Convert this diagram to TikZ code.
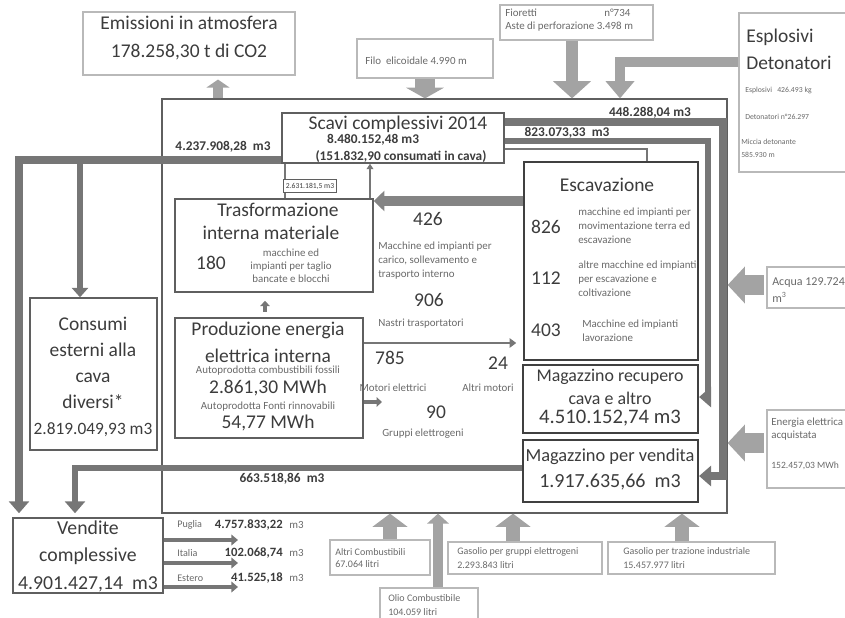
\documentclass[tikz,border=0pt]{standalone}
\usepackage{fontspec}
\setmainfont{Carlito}
\usetikzlibrary{arrows.meta,positioning,fit}

\definecolor{boxline}{RGB}{95,95,95}
\definecolor{paleline}{RGB}{185,185,185}
\definecolor{flowgray}{RGB}{118,118,118}
\definecolor{fatgray}{RGB}{163,163,163}
\definecolor{txtdark}{RGB}{60,60,60}
\definecolor{txtsmall}{RGB}{105,105,105}

\newcommand{\titlesize}{\fontsize{14.6}{17}\selectfont}
\newcommand{\notesize}{\fontsize{8.2}{10}\selectfont}
\newcommand{\flowsize}{\fontsize{10}{12}\selectfont\bfseries}

\tikzset{
  box/.style={draw=boxline,line width=1.1pt},
  heavybox/.style={draw=black!75,line width=1.6pt},
  palebox/.style={draw=paleline,line width=0.8pt},
  titletxt/.style={font=\titlesize,text=txtdark},
  notetxt/.style={font=\notesize,text=txtsmall},
  flowtxt/.style={font=\flowsize,text=txtdark},
  flow/.style={draw=flowgray,line width=#1,-{Triangle[width=15pt,length=9pt]}},
  flow/.default=5pt,
  link/.style={draw=flowgray,line width=1.8pt},
  fatarrow/.style n args={3}{draw=fatgray,line width=#1,-{Triangle[width=#2,length=#3]}}
}

\begin{document}
\begin{tikzpicture}[x=0.75pt,y=-0.75pt]
\tikzstyle{every node}+=[inner sep=0pt]
\useasboundingbox (0,0) rectangle (845,617);

\node[palebox,fit={(83,12) (295,75)}] (emis) {};
\node[palebox,fit={(357,39) (493,78)}] (filo) {};
\node[palebox,fit={(500,5) (653,40)}] (fior) {};
\node[palebox,fit={(739,13) (852,172)}] (espl) {};
\node[box,line width=0.9pt,fit={(162,99) (727,513)}] (quarry) {};
\node[box,fit={(282,113) (504,163)}] (scavi) {};
\node[box,fit={(175,199) (373,292)}] (trasf) {};
\node[box,fit={(175,318) (363,438)}] (prod) {};
\node[heavybox,fit={(524,162) (698,360)}] (escav) {};
\node[heavybox,fit={(523,365) (698,433)}] (magrec) {};
\node[heavybox,fit={(523,440) (698,502)}] (magven) {};
\node[box,fit={(30,298) (157,450)}] (consumi) {};
\node[box,fit={(13,518) (163,593)}] (vendite) {};
\node[palebox,fit={(767,267) (852,308)}] (acqua) {};
\node[palebox,fit={(767,410) (852,488)}] (energia) {};
\node[palebox,fit={(330,540) (430,575)}] (altri) {};
\node[palebox,fit={(380,588) (478,630)}] (olio) {};
\node[palebox,fit={(448,542) (602,574)}] (gasgen) {};
\node[palebox,fit={(608,542) (775,574)}] (gastraz) {};

\node[titletxt,align=center,font=\fontsize{14.6}{21}\selectfont] (emistxt) at (189,38) {Emissioni in atmosfera\\178.258,30 t di CO2};
\node[notetxt,anchor=west] (filotxt) at (365,61) {Filo\ \ elicoidale 4.990 m};
\node[notetxt,anchor=west] (fiortxt) at (505,13) {Fioretti};
\node[notetxt,anchor=west] (fiornum) at (604,13) {n°734};
\node[notetxt,anchor=west] (astetxt) at (505,27) {Aste di perforazione 3.498 m};
\node[titletxt,anchor=west] (espltxt) at (746,37) {Esplosivi};
\node[titletxt,anchor=west] (detotxt) at (746,63) {Detonatori};
\node[notetxt,font=\fontsize{5.8}{7}\selectfont,anchor=west] (esplnum) at (745,90) {Esplosivi\ \ \ 426.493 kg};
\node[notetxt,font=\fontsize{5.8}{7}\selectfont,anchor=west] (detonum) at (745,117) {Detonatori n°26.297};
\node[notetxt,font=\fontsize{5.8}{7}\selectfont,anchor=west] (miccia) at (741,142) {Miccia detonante};
\node[notetxt,font=\fontsize{5.8}{7}\selectfont,anchor=west] (miccianum) at (741,155) {585.930 m};

\node[titletxt] (scavitxt) at (398,124) {Scavi complessivi 2014};
\node[flowtxt] (scavinum) at (373,140) {8.480.152,48 m3};
\node[flowtxt] (scavicons) at (401,157) {(151.832,90 consumati in cava)};

\node[titletxt] (trasf1) at (278,210) {Trasformazione};
\node[titletxt] (trasf2) at (271,233) {interna materiale};
\node[titletxt] (trasfnum) at (211,263) {180};
\node[notetxt,align=center,font=\fontsize{8.2}{9.8}\selectfont] (trasfnote) at (291,266) {macchine ed\\impianti per taglio\\bancate e blocchi};

\node[titletxt] (n426) at (428,219) {426};
\node[notetxt,align=left,anchor=west,font=\fontsize{8.2}{10.5}\selectfont] (n426txt) at (378,261) {Macchine ed impianti per\\carico, sollevamento e\\trasporto interno};
\node[titletxt] (n906) at (429,300) {906};
\node[notetxt] (n906txt) at (421,324) {Nastri trasportatori};
\node[titletxt] (n785) at (390,358) {785};
\node[titletxt] (n24) at (498,363) {24};
\node[notetxt] (n785txt) at (393,388) {Motori elettrici};
\node[notetxt] (n24txt) at (488,388) {Altri motori};
\node[titletxt] (n90) at (436,412) {90};
\node[notetxt] (n90txt) at (423,434) {Gruppi elettrogeni};

\node[titletxt] (prod1) at (268,330) {Produzione energia};
\node[titletxt] (prod2) at (268,356) {elettrica interna};
\node[notetxt] (prod3) at (268,371) {Autoprodotta combustibili fossili};
\node[titletxt] (prod4) at (268,388) {2.861,30 MWh};
\node[notetxt] (prod5) at (268,407) {Autoprodotta Fonti rinnovabili};
\node[titletxt] (prod6) at (268,423) {54,77 MWh};

\node[titletxt] (escavtxt) at (607,185) {Escavazione};
\node[titletxt] (n826) at (546,227) {826};
\node[notetxt,align=left,anchor=west,font=\fontsize{8.2}{10.5}\selectfont] (n826txt) at (578,226) {macchine ed impianti per\\movimentazione terra ed\\escavazione};
\node[titletxt] (n112) at (546,278) {112};
\node[notetxt,align=left,anchor=west,font=\fontsize{8.2}{10.5}\selectfont] (n112txt) at (578,279) {altre macchine ed impianti\\per escavazione e\\coltivazione};
\node[titletxt] (n403) at (546,330) {403};
\node[notetxt,align=left,anchor=west,font=\fontsize{8.2}{10.5}\selectfont] (n403txt) at (582,331) {Macchine ed impianti\\lavorazione};

\node[titletxt,font=\fontsize{13.4}{15}\selectfont] (magrec1) at (610,377) {Magazzino recupero};
\node[titletxt,font=\fontsize{13.4}{15}\selectfont] (magrec2) at (610,398) {cava e altro};
\node[titletxt,font=\fontsize{15.5}{17}\selectfont] (magrec3) at (610,418) {4.510.152,74 m3};
\node[titletxt,font=\fontsize{13.8}{15}\selectfont] (magven1) at (610,457) {Magazzino per vendita};
\node[titletxt,font=\fontsize{15}{17}\selectfont] (magven2) at (610,482) {1.917.635,66\ \ m3};

\node[titletxt,align=center,font=\fontsize{14.6}{19.5}\selectfont] (consumitxt) at (93,377) {Consumi\\esterni alla\\cava\\diversi*\\{\fontsize{13}{19.5}\selectfont 2.819.049,93 m3}};
\node[titletxt,align=center,font=\fontsize{14.8}{20.6}\selectfont] (venditetxt) at (88,556) {Vendite\\complessive\\4.901.427,14\ \ m3};

\node[notetxt,font=\fontsize{7.6}{9}\selectfont,anchor=west] (puglia) at (177,525) {Puglia};
\node[flowtxt,font=\fontsize{9.5}{11}\selectfont\bfseries,anchor=east] (puglianum) at (283,525) {4.757.833,22};
\node[notetxt,anchor=west] (pugliam) at (289,525) {m3};
\node[notetxt,font=\fontsize{7.6}{9}\selectfont,anchor=west] (italia) at (177,553) {Italia};
\node[flowtxt,font=\fontsize{9.5}{11}\selectfont\bfseries,anchor=east] (italianum) at (283,553) {102.068,74};
\node[notetxt,anchor=west] (italiam) at (289,553) {m3};
\node[notetxt,font=\fontsize{7.6}{9}\selectfont,anchor=west] (estero) at (177,578) {Estero};
\node[flowtxt,font=\fontsize{9.5}{11}\selectfont\bfseries,anchor=east] (esteronum) at (283,578) {41.525,18};
\node[notetxt,anchor=west] (esterom) at (289,578) {m3};

\node[notetxt,font=\fontsize{9}{11}\selectfont,anchor=west] (acqua1) at (772,283) {Acqua 129.724};
\node[notetxt,font=\fontsize{9}{11}\selectfont,anchor=west] (acqua2) at (772,297) {m\textsuperscript{3}};
\node[notetxt,anchor=west] (energia1) at (771,423) {Energia elettrica};
\node[notetxt,anchor=west] (energia2) at (771,436) {acquistata};
\node[notetxt,font=\fontsize{7.2}{9}\selectfont,anchor=west] (energia3) at (771,466) {152.457,03 MWh};
\node[notetxt,font=\fontsize{7.5}{9}\selectfont,anchor=west] (altri1) at (335,552) {Altri Combustibili};
\node[notetxt,font=\fontsize{7.5}{9}\selectfont,anchor=west] (altri2) at (335,564) {67.064 litri};
\node[notetxt,font=\fontsize{7.5}{9}\selectfont,anchor=west] (olio1) at (388,598) {Olio Combustibile};
\node[notetxt,font=\fontsize{7.5}{9}\selectfont,anchor=west] (olio2) at (388,612) {104.059 litri};
\node[notetxt,font=\fontsize{7.5}{9}\selectfont,anchor=west] (gasgen1) at (457,552) {Gasolio per gruppi elettrogeni};
\node[notetxt,font=\fontsize{7.5}{9}\selectfont,anchor=west] (gasgen2) at (457,565) {2.293.843 litri};
\node[notetxt,font=\fontsize{7.5}{9}\selectfont,anchor=west] (gastraz1) at (623,552) {Gasolio per trazione industriale};
\node[notetxt,font=\fontsize{7.5}{9}\selectfont,anchor=west] (gastraz2) at (623,565) {15.457.977 litri};

\draw[flow=4pt,-{Triangle[width=12pt,length=7pt]}] (80,160) -- (consumi.north -| 80,0);
\draw[flow=5.5pt,shorten >=3pt] (scavi.west |- 0,160) -- (19,160) -- (vendite.north -| 19,0);
\draw[flow=5pt,shorten >=3pt] (magven.west |- 0,468) -- (75,468) -- (vendite.north -| 75,0);
\draw[flow=6pt] (scavi.east |- 0,122) -- (723,122) -- (723,476) -- (magven.east |- 0,476);
\draw[flow=4pt] (scavi.east |- 0,141) -- (708,141) -- (708,397) -- (magrec.east |- 0,397);
\draw[link] (scavi.east |- 0,149) -- (647,149) -- (escav.north -| 647,0);
\draw[link] (scavi.south -| 285,0) -- (trasf.north -| 285,0);
\draw[link,-{Triangle[width=5pt,length=4pt]}] (trasf.north -| 370,0) -- (scavi.south -| 370,0);
\draw[fatarrow={7.5pt}{15pt}{8pt},draw=flowgray!90] (escav.west |- 0,201) -- (trasf.east |- 0,201);
\draw[link,line width=2.2pt,-{Triangle[width=7pt,length=5pt]},shorten >=5pt] (prod.east |- 0,343) -- (escav.west |- 0,343);
\draw[link,line width=3.5pt,-{Triangle[width=7pt,length=4pt]}] (prod.east |- 0,402) -- (382,402);
\draw[link,line width=3pt,-{Triangle[width=7pt,length=4pt]},shorten <=4pt,shorten >=6pt] (prod.north -| 265,0) -- (trasf.south -| 265,0);

\foreach \y in {540,563,587}
  \draw[link,line width=3.5pt,-{Triangle[width=8pt,length=5pt]}] (vendite.east |- 0,\y) -- (238,\y);

\draw[fatarrow={7.5pt}{17pt}{6pt},shorten >=3pt] (quarry.north -| 218,0) -- (emis.south -| 218,0);
\draw[fatarrow={15pt}{28pt}{8pt}] (filo.south) -- (quarry.north -| filo.south);
\draw[fatarrow={9pt}{28pt}{13pt}] (fior.south -| 572,0) -- (quarry.north -| 572,0);
\draw[fatarrow={7.5pt}{21pt}{13pt}] (espl.west |- 0,62) -- (620,62) -- (quarry.north -| 620,0);
\draw[fatarrow={15pt}{27pt}{13pt},shorten <=2pt] (acqua.west |- 0,285) -- (quarry.east |- 0,285);
\draw[fatarrow={15pt}{27pt}{13pt},shorten <=2pt] (energia.west |- 0,443) -- (quarry.east |- 0,443);
\draw[fatarrow={10.5pt}{26pt}{10pt}] (altri.north -| 390,0) -- (quarry.south -| 390,0);
\draw[fatarrow={7.5pt}{16pt}{7.5pt}] (olio.north -| 438,0) -- (quarry.south -| 438,0);
\draw[fatarrow={10.5pt}{26pt}{10pt}] (gasgen.north -| 513,0) -- (quarry.south -| 513,0);
\draw[fatarrow={10.5pt}{26pt}{10pt}] (gastraz.north -| 682,0) -- (quarry.south -| 682,0);

\node[flowtxt] (flow4237) at (223,147) {4.237.908,28\ \ m3};
\node[flowtxt] (flow448) at (650,113) {448.288,04 m3};
\node[flowtxt] (flow823) at (567,133) {823.073,33\ \ m3};
\node[flowtxt] (flow663) at (282,479) {663.518,86\ \ m3};
\node[draw=boxline,line width=0.6pt,fill=white,font=\fontsize{5.7}{7}\selectfont,text=txtdark,inner xsep=2pt,inner ysep=2.5pt] (cutlab) at (310,186) {2.631.181,5 m3};
\end{tikzpicture}
\end{document}
